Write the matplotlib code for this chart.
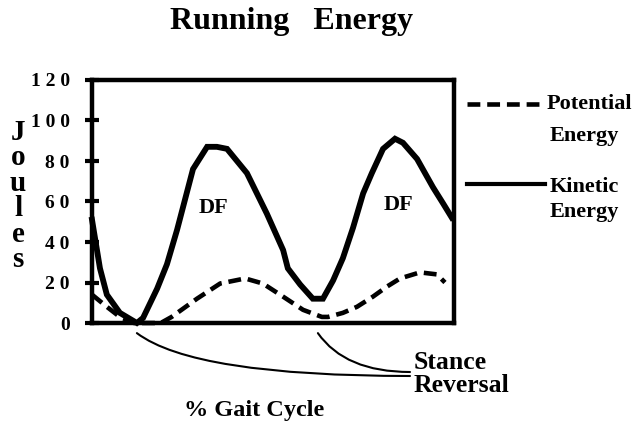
import numpy as np
import matplotlib.pyplot as plt

# % gait cycle vs joules
kin_x = [0, 2.2, 4.1, 7.7, 12.4, 14.1, 18, 20.7, 23.5, 27.9, 31.8, 34.5, 37.3, 42.8,
         48.3, 52.8, 54.1, 57.5, 61, 63.8, 66.6, 69.3, 72.1, 74.9, 77.3, 80.4, 83.7,
         85.9, 89.8, 94.2, 97, 99.4]
kin_y = [51, 27, 14, 5, 0, 2.5, 17, 29, 46, 76, 87, 87, 86, 74,
         54, 36, 27, 19, 12, 12, 21, 32, 47, 64, 74, 86, 91,
         89, 81, 67, 59, 52]
pot_x = [0, 4.1, 7.7, 11.6, 14, 19, 22, 29, 35.4, 42.3, 47.2, 52.8, 58.3, 63.5,
         65.2, 69.3, 73.2, 77.6, 81.5, 85.1, 90.6, 95.3, 97.5]
pot_y = [14, 8, 3, 0, 0, 0, 3, 12, 19.5, 22, 19.5, 13, 6.5, 3,
         3, 5, 8, 13, 18, 22, 25, 24, 20]
yticks = [0, 20, 40, 60, 80, 100, 120]
reversal_x = [12.4, 62.4]

W, H = 637, 423
serif = ['Liberation Serif', 'DejaVu Serif']
fig = plt.figure(figsize=(W/100, H/100), dpi=100)
ax = fig.add_axes([92/W, 1 - 323/H, (454-92)/W, (323-80)/H])

ax.plot(kin_x, kin_y, color='k', lw=4.2, solid_joinstyle='miter', clip_on=False)
ax.plot(pot_x, pot_y, color='k', lw=3.3, linestyle=(0, (2.8, 1.5)),
        dash_capstyle='butt', clip_on=False)

ax.set_xlim(0, 100)
ax.set_ylim(0, 120)
ax.set_xticks([])
ax.set_yticks(yticks)
ax.set_yticklabels([' '.join(str(t)) for t in yticks], family=serif,
                   fontweight='bold', fontsize=14)
ax.tick_params(axis='y', direction='inout', length=10, width=3, pad=11)
for s in ax.spines.values():
    s.set_linewidth(3.2)

ax.text(33.7, 57, 'DF', family=serif, fontweight='bold', fontsize=16,
        ha='center', va='center')
ax.text(84.8, 58.5, 'DF', family=serif, fontweight='bold', fontsize=16,
        ha='center', va='center')

fig.text(292/W, 1 - 22/H, 'Running   Energy', family=serif, fontweight='bold',
         fontsize=23, ha='center', va='center')
fig.text(18/W, 1 - 196/H, '\n'.join('Joules'), family=serif, fontweight='bold',
         fontsize=21, ha='center', va='center', linespacing=0.93)
fig.text(254/W, 1 - 410/H, '% Gait Cycle', family=serif, fontweight='bold',
         fontsize=17.5, ha='center', va='center')

# legend drawn by hand like the original
lx = [467/W, 545/W]
fig.add_artist(plt.Line2D(lx, [1 - 104/H] * 2, color='k', lw=3.3,
                          linestyle=(0, (2.8, 1.5)), dash_capstyle='butt'))
fig.add_artist(plt.Line2D(lx, [1 - 184/H] * 2, color='k', lw=3))
fig.text(547/W, 1 - 104/H, 'Potential', family=serif, fontweight='bold',
         fontsize=16, ha='left', va='center')
fig.text(550/W, 1 - 136/H, 'Energy', family=serif, fontweight='bold',
         fontsize=16, ha='left', va='center')
fig.text(550/W, 1 - 187/H, 'Kinetic', family=serif, fontweight='bold',
         fontsize=16, ha='left', va='center')
fig.text(550/W, 1 - 212/H, 'Energy', family=serif, fontweight='bold',
         fontsize=16, ha='left', va='center')

fig.text(414/W, 1 - 374/H, 'Stance\nReversal', family=serif, fontweight='bold',
         fontsize=18.5, ha='left', va='center', linespacing=1.0)
for rx, ty, ang in [(reversal_x[0], 376, -37), (reversal_x[1], 372, -55)]:
    ax.annotate('', xy=(rx, -5), xycoords='data',
                xytext=(410, H - ty), textcoords='figure pixels',
                annotation_clip=False,
                arrowprops=dict(arrowstyle='-', lw=1.5, color='k',
                                connectionstyle=f'angle3,angleA=0,angleB={ang}',
                                shrinkA=0, shrinkB=0))

fig.savefig('out.png', dpi=100)
